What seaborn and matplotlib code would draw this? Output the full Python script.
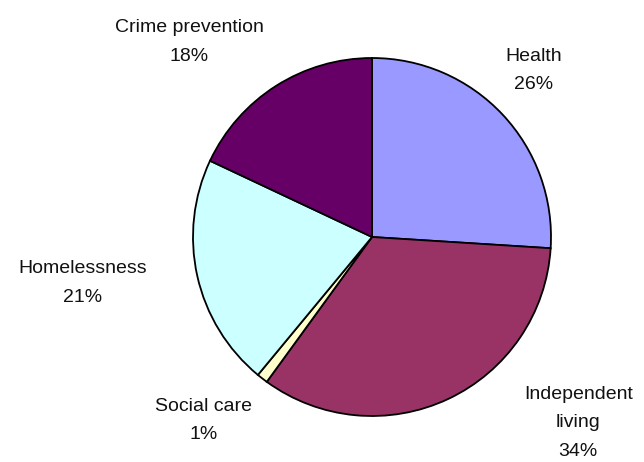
import matplotlib
matplotlib.use('Agg')
import matplotlib.pyplot as plt
import seaborn as sns
import numpy as np

sns.set_theme(style='white')
plt.rcParams['font.family'] = ['Liberation Sans', 'DejaVu Sans']

# Data
categories = ['Health', 'Independent\nliving', 'Social care', 'Homelessness', 'Crime prevention']
shares = [26, 34, 1, 21, 18]
colors = ['#9999FF', '#993366', '#FFFFCC', '#CCFFFF', '#660066']

# label offsets from the wedge's outer midpoint (pixels, y up)
label_offsets = [(31, 44), (130, -24), (-59, -42), (-115, -7), (-87, 44)]

fig = plt.figure(figsize=(6.44, 4.62), dpi=100)
ax = fig.add_axes([0, 0, 1, 1])

cx, cy, r = 372, 225, 179
wedges, _ = ax.pie(shares, colors=colors, startangle=90, counterclock=False,
                   center=(cx, cy), radius=r, frame=True,
                   wedgeprops=dict(edgecolor='black', linewidth=1.3))
ax.set_xlim(0, 644)
ax.set_ylim(0, 462)
ax.set_aspect('equal')
ax.axis('off')

for w, name, val, (ox, oy) in zip(wedges, categories, shares, label_offsets):
    mid = np.deg2rad((w.theta1 + w.theta2) / 2)
    ex = cx + r * np.cos(mid)
    ey = cy + r * np.sin(mid)
    ax.text(ex + ox, ey + oy, f'{name}\n{val}%', ha='center', va='center',
            fontsize=14, linespacing=1.9, color='#111111')

fig.savefig('out.png', dpi=100)
